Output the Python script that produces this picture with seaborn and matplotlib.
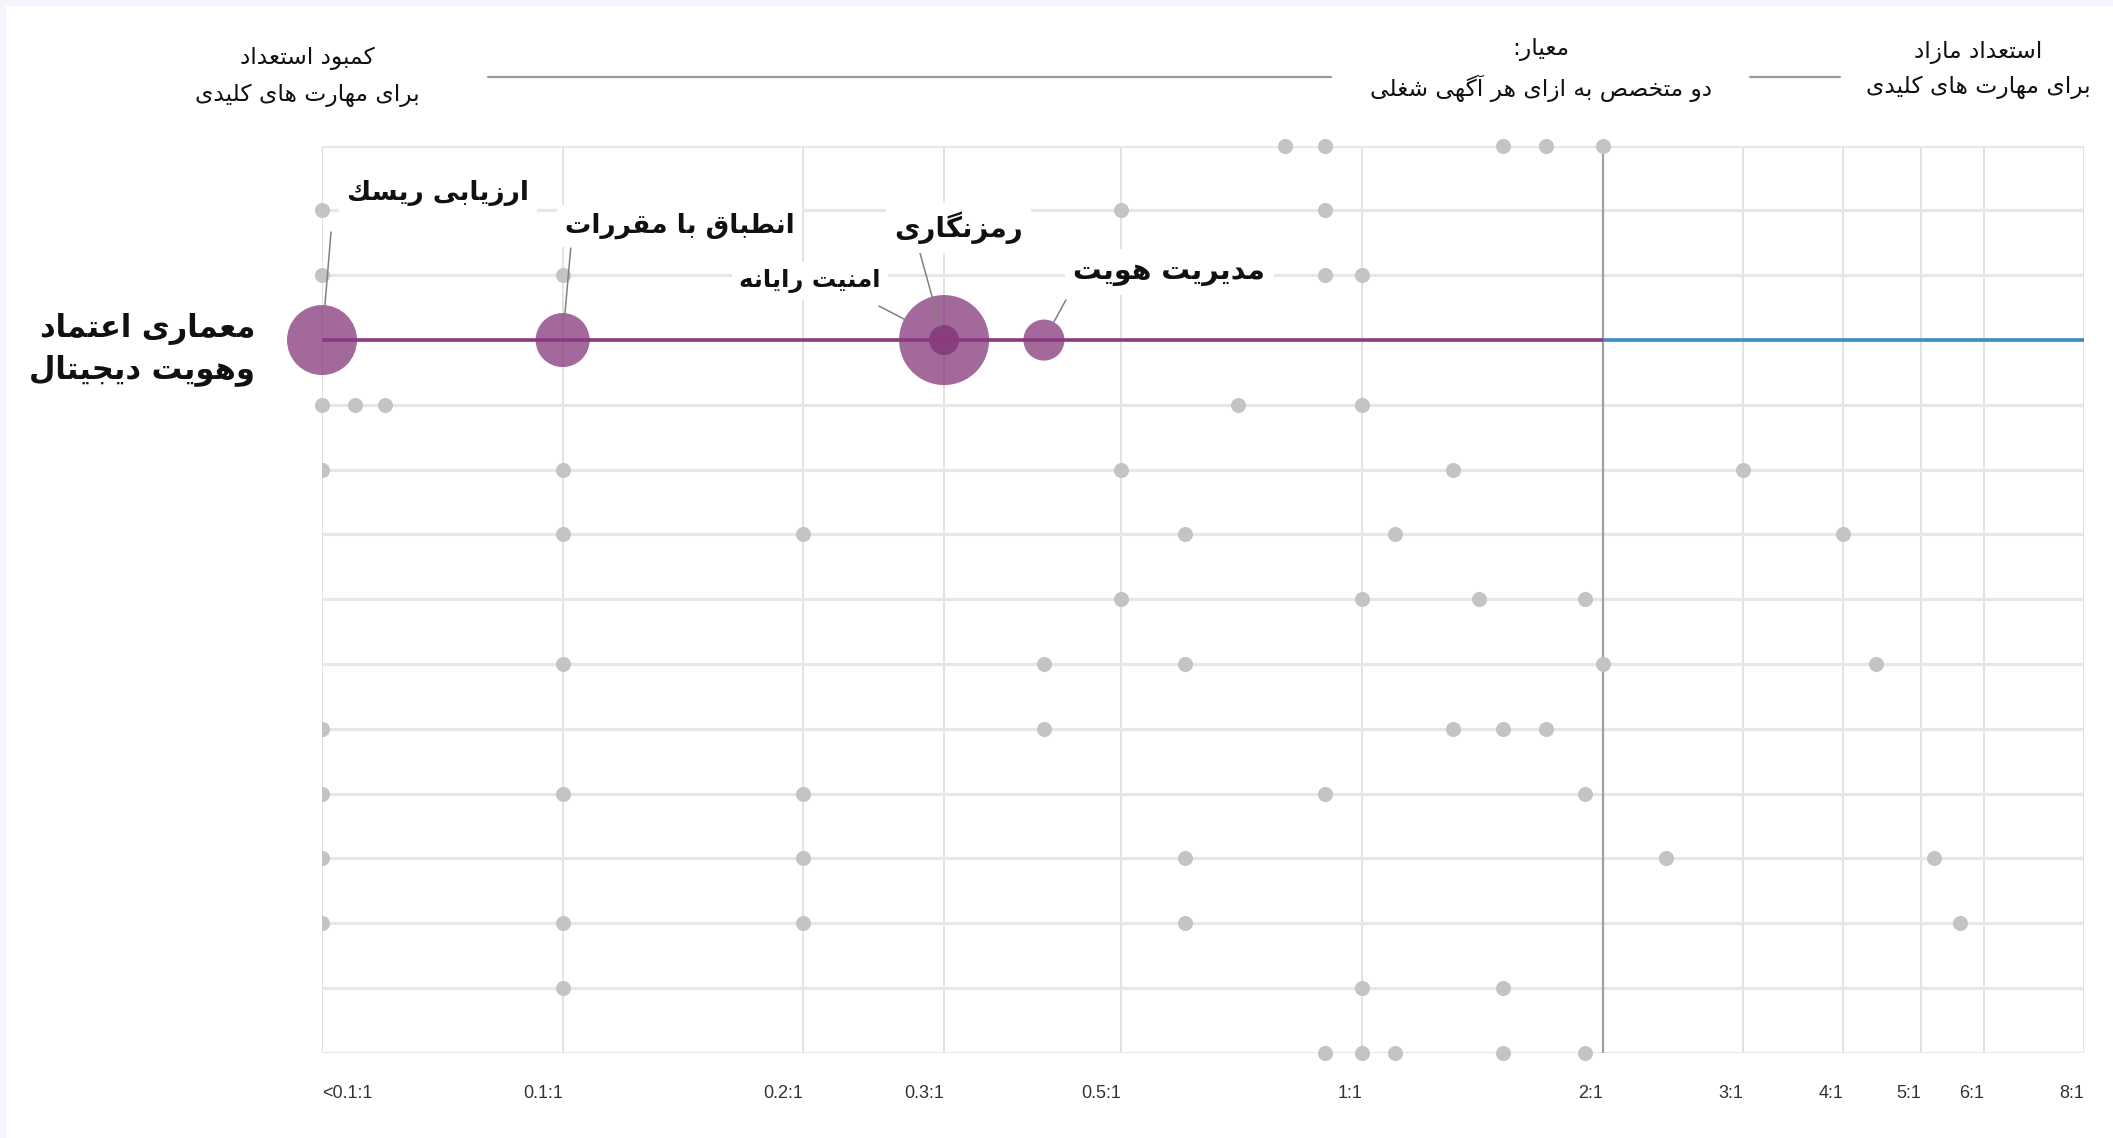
import matplotlib
matplotlib.use("Agg")
import matplotlib.pyplot as plt
from matplotlib.lines import Line2D
from matplotlib.patches import Rectangle
import pandas as pd
import seaborn as sns

# --- 1. DATA ---
# specialists per job posting (log2 axis); rows are skill clusters, 0 = top row
tick_values = [0.05, 0.1, 0.2, 0.3, 0.5, 1, 2, 3, 4, 5, 6, 8]
tick_labels = ["<0.1:1", "0.1:1", "0.2:1", "0.3:1", "0.5:1", "1:1", "2:1",
               "3:1", "4:1", "5:1", "6:1", "8:1"]
n_rows = 15
benchmark = 2

# grey dots: other skills in the other clusters
dot_row = [0, 0, 0, 0, 0,
           1, 1, 1,
           2, 2, 2, 2,
           4, 4, 4, 4, 4,
           5, 5, 5, 5, 5,
           6, 6, 6, 6, 6,
           7, 7, 7, 7,
           8, 8, 8, 8, 8,
           9, 9, 9, 9, 9,
           10, 10, 10, 10, 10,
           11, 11, 11, 11, 11,
           12, 12, 12, 12, 12,
           13, 13, 13,
           14, 14, 14, 14, 14]
dot_ratio = [0.8, 0.9, 1.5, 1.7, 2.0,
             0.05, 0.5, 0.9,
             0.05, 0.1, 0.9, 1.0,
             0.05, 0.055, 0.06, 0.7, 1.0,
             0.05, 0.1, 0.5, 1.3, 3.0,
             0.1, 0.2, 0.6, 1.1, 4.0,
             0.5, 1.0, 1.4, 1.9,
             0.1, 0.4, 0.6, 2.0, 4.4,
             0.05, 0.4, 1.3, 1.5, 1.7,
             0.05, 0.1, 0.2, 0.9, 1.9,
             0.05, 0.2, 0.6, 2.4, 5.2,
             0.05, 0.1, 0.2, 0.6, 5.6,
             0.1, 1.0, 1.5,
             0.9, 1.0, 1.1, 1.5, 1.9]

# highlighted cluster
highlight_row = 3
highlight_name = "معماری اعتماد\nوهویت دیجیتال"
skill_names = ["ارزیابی ریس\u0643", "انطباق با مقررات", "امنیت رایانه",
               "رمزنگاری", "مدیریت هویت"]
skill_ratio = [0.05, 0.1, 0.3, 0.3, 0.4]
skill_demand = [12.25, 7.3, 20.25, 2.25, 4.2]

header_left = "کمبود استعداد\nبرای مهارت های کلیدی"
header_mid = "معیار:\nدو متخصص به ازای هر آگهی شغلی"
header_right = "استعداد مازاد\nبرای مهارت های کلیدی"

# --- 2. PERSIAN SHAPING (matplotlib has no RTL / joining support) ---
FORMS = {
    '\u0622': ('\uFE81', '\uFE82', None, None),
    '\u0627': ('\uFE8D', '\uFE8E', None, None),
    '\u0628': ('\uFE8F', '\uFE90', '\uFE91', '\uFE92'),
    '\u067E': ('\uFB56', '\uFB57', '\uFB58', '\uFB59'),
    '\u062A': ('\uFE95', '\uFE96', '\uFE97', '\uFE98'),
    '\u062B': ('\uFE99', '\uFE9A', '\uFE9B', '\uFE9C'),
    '\u062C': ('\uFE9D', '\uFE9E', '\uFE9F', '\uFEA0'),
    '\u0686': ('\uFB7A', '\uFB7B', '\uFB7C', '\uFB7D'),
    '\u062D': ('\uFEA1', '\uFEA2', '\uFEA3', '\uFEA4'),
    '\u062E': ('\uFEA5', '\uFEA6', '\uFEA7', '\uFEA8'),
    '\u062F': ('\uFEA9', '\uFEAA', None, None),
    '\u0630': ('\uFEAB', '\uFEAC', None, None),
    '\u0631': ('\uFEAD', '\uFEAE', None, None),
    '\u0632': ('\uFEAF', '\uFEB0', None, None),
    '\u0698': ('\uFB8A', '\uFB8B', None, None),
    '\u0633': ('\uFEB1', '\uFEB2', '\uFEB3', '\uFEB4'),
    '\u0634': ('\uFEB5', '\uFEB6', '\uFEB7', '\uFEB8'),
    '\u0635': ('\uFEB9', '\uFEBA', '\uFEBB', '\uFEBC'),
    '\u0636': ('\uFEBD', '\uFEBE', '\uFEBF', '\uFEC0'),
    '\u0637': ('\uFEC1', '\uFEC2', '\uFEC3', '\uFEC4'),
    '\u0638': ('\uFEC5', '\uFEC6', '\uFEC7', '\uFEC8'),
    '\u0639': ('\uFEC9', '\uFECA', '\uFECB', '\uFECC'),
    '\u063A': ('\uFECD', '\uFECE', '\uFECF', '\uFED0'),
    '\u0641': ('\uFED1', '\uFED2', '\uFED3', '\uFED4'),
    '\u0642': ('\uFED5', '\uFED6', '\uFED7', '\uFED8'),
    '\u0643': ('\uFED9', '\uFEDA', '\uFEDB', '\uFEDC'),
    '\u06A9': ('\uFB8E', '\uFB8F', '\uFB90', '\uFB91'),
    '\u06AF': ('\uFB92', '\uFB93', '\uFB94', '\uFB95'),
    '\u0644': ('\uFEDD', '\uFEDE', '\uFEDF', '\uFEE0'),
    '\u0645': ('\uFEE1', '\uFEE2', '\uFEE3', '\uFEE4'),
    '\u0646': ('\uFEE5', '\uFEE6', '\uFEE7', '\uFEE8'),
    '\u0647': ('\uFEE9', '\uFEEA', '\uFEEB', '\uFEEC'),
    '\u0648': ('\uFEED', '\uFEEE', None, None),
    '\u06CC': ('\uFBFC', '\uFBFD', '\uFBFE', '\uFBFF'),
    '\u064A': ('\uFEF1', '\uFEF2', '\uFEF3', '\uFEF4'),
}


def fa(text):
    lines = []
    for line in text.split("\n"):
        out = []
        for i, ch in enumerate(line):
            if ch not in FORMS:
                if ch != '\u200c':
                    out.append(ch)
                continue
            prev = line[i - 1] if i > 0 else None
            nxt = line[i + 1] if i + 1 < len(line) else None
            iso, fin, ini, med = FORMS[ch]
            join_prev = prev in FORMS and FORMS[prev][2] is not None
            join_next = ini is not None and nxt in FORMS
            if join_prev and join_next:
                out.append(med)
            elif join_prev:
                out.append(fin)
            elif join_next:
                out.append(ini)
            else:
                out.append(iso)
        lines.append("".join(reversed(out)))
    return "\n".join(lines)


# --- 3. STYLE ---
sns.set_style("white")
plt.rcParams["font.family"] = ["DejaVu Sans"]
FA_FONT = ["DejaVu Sans"]
TICK_FONT = ["Liberation Sans Narrow", "Liberation Sans", "DejaVu Sans"]
GREY_DOT = "#c4c4c4"
PURPLE = "#8b3a80"
BUBBLE = "#7f2f74"
BLUE = "#3a8ebd"

W, H = 2113, 1138
fig = plt.figure(figsize=(W / 100, H / 100), dpi=100)
fig.patch.set_facecolor("#f3f4fc")
fig.add_artist(Rectangle((6 / W, 0), 1, 1 - 6 / H, transform=fig.transFigure,
                         facecolor="white", edgecolor="none", zorder=-10))

top_px, bot_px, left_px, right_px = 145.7, 1052.7, 322, 2084
ax = fig.add_axes([left_px / W, 1 - bot_px / H,
                   (right_px - left_px) / W, (bot_px - top_px) / H])
ax.set_facecolor("none")

# --- 4. GREY DOTS ---
dots = pd.DataFrame({"ratio": dot_ratio, "row": dot_row})
near = dots[dots["row"] < 5]
far = dots[dots["row"] >= 5]

sns.scatterplot(data=near, x="ratio", y="row", color=GREY_DOT, s=118,
                linewidth=0, ax=ax, zorder=2, clip_on=False, legend=False)
sns.scatterplot(data=far, x="ratio", y="row", color=GREY_DOT, s=118,
                linewidth=0, ax=ax, zorder=2, legend=False)
ax.collections[-1].set_clip_path(
    Rectangle((0, -0.05), 1.05, 1.1, transform=ax.transAxes))

# --- 5. HIGHLIGHTED CLUSTER ---
skills = pd.DataFrame({"ratio": skill_ratio, "row": highlight_row,
                       "demand": skill_demand})
sns.scatterplot(data=skills, x="ratio", y="row", size="demand",
                sizes=(467, 4199), size_norm=(2.25, 20.25), color=BUBBLE,
                alpha=0.72, linewidth=0, ax=ax, zorder=3, clip_on=False,
                legend=False)

ax.hlines(highlight_row, tick_values[0], benchmark, color=PURPLE,
          linewidth=2.6, zorder=4)
ax.hlines(highlight_row, benchmark, tick_values[-1], color=BLUE,
          linewidth=2.6, zorder=4)

# benchmark line at 2:1
ax.axvline(benchmark, color="#a0a0a0", linewidth=1.6, zorder=1)

# --- 6. AXES ---
ax.set_xscale("log", base=2)
ax.set_xlim(tick_values[0], tick_values[-1])
ax.set_ylim(n_rows - 1, 0)

ax.set_xticks(tick_values)
ax.set_xticklabels(tick_labels)
ax.minorticks_off()
ax.set_yticks(range(n_rows))
ax.set_yticklabels([])
ax.tick_params(axis="x", length=0, pad=23, labelsize=13, labelcolor="#333333")
ax.tick_params(axis="y", length=0)
for i, lab in enumerate(ax.get_xticklabels()):
    lab.set_family(TICK_FONT)
    lab.set_ha("left" if i == 0 else "right")
for s in ax.spines.values():
    s.set_visible(False)

ax.grid(axis="y", color="#e7e7e7", linewidth=2.3, zorder=0)
ax.grid(axis="x", color="#dddddd", linewidth=1.2, zorder=0)
ax.set_axisbelow(True)
ax.set_xlabel("")
ax.set_ylabel("")

# labels and leader lines (leader offsets in points, shrink = bubble radius)
label_pos = [(0.0699, 0.73), (0.140, 1.24), (0.204, 2.09),
             (0.313, 1.27), (0.574, 1.95)]
label_size = [19, 19, 17.5, 20, 20.5]
leader_off = [(6.5, 77.8), (5.8, 66.2), (-46.8, 24.5),
              (-17.3, 62.6), (15.8, 28.8)]
leader_shrink = [25.2, 19.4, 32.4, 10.8, 14.8]

for name, x, (lx, ly), fs, off, shr in zip(skill_names, skill_ratio, label_pos,
                                           label_size, leader_off, leader_shrink):
    ax.annotate("", xy=(x, highlight_row), xytext=off,
                textcoords="offset points",
                arrowprops=dict(arrowstyle="-", color="#808080", lw=1.1,
                                shrinkA=0, shrinkB=shr),
                zorder=5, annotation_clip=False)
    ax.text(lx, ly, fa(name), ha="center", va="center", fontsize=fs,
            fontweight="bold", family=FA_FONT, color="#111111", zorder=6,
            bbox=dict(boxstyle="square,pad=0.3", fc="white", ec="none"))

ax.annotate(fa(highlight_name), xy=(tick_values[0], highlight_row),
            xytext=(-48, -7), textcoords="offset points", ha="right",
            va="center", multialignment="right", fontsize=22,
            fontweight="bold", family=FA_FONT, color="#111111",
            linespacing=1.4, annotation_clip=False)

# --- 7. HEADER ---
hdr = dict(ha="center", va="center", fontsize=16.8, family=FA_FONT,
           color="#111111")
fig.text(307 / W, 1 - 77 / H, fa(header_left), linespacing=1.75, **hdr)
fig.text(1541 / W, 1 - 70 / H, fa(header_mid), linespacing=1.65, **hdr)
fig.text(1978 / W, 1 - 70 / H, fa(header_right), linespacing=1.65, **hdr)
for x0, x1 in [(488, 1331), (1750, 1840)]:
    fig.add_artist(Line2D([x0 / W, x1 / W], [1 - 77 / H, 1 - 77 / H],
                          transform=fig.transFigure, color="#999999", lw=1.6))

plt.savefig("out.png", dpi=100)
